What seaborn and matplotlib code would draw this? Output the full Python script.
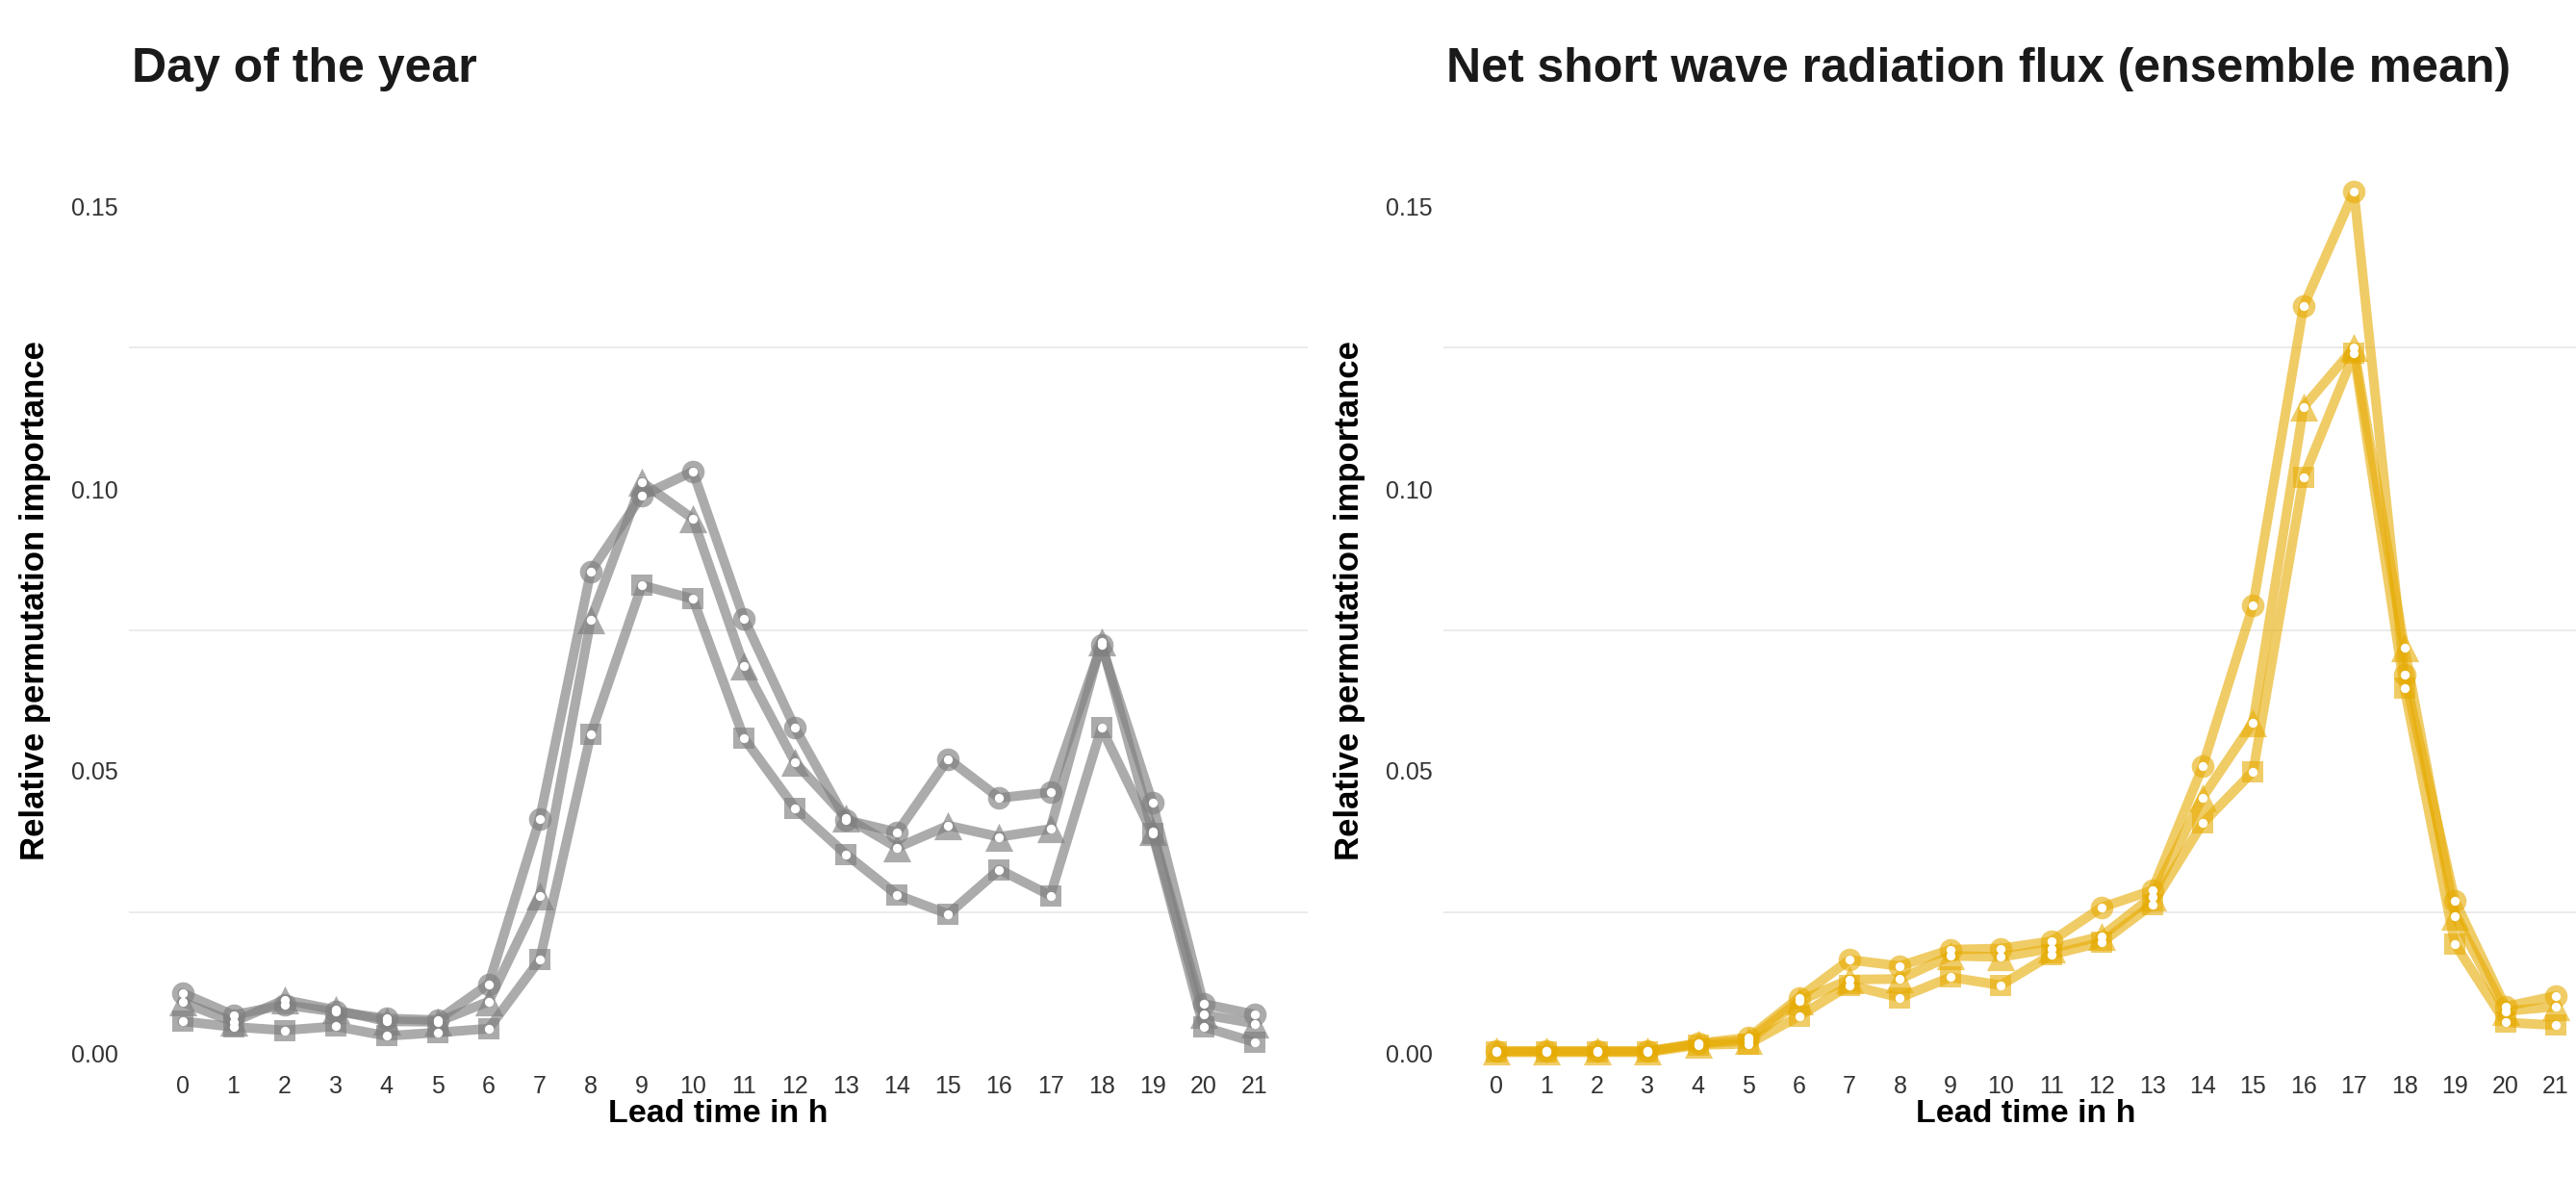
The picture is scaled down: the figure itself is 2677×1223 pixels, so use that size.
import numpy as np
import pandas as pd
import matplotlib
matplotlib.use("Agg")
import matplotlib.pyplot as plt
from matplotlib.ticker import FixedLocator, FormatStrFormatter
import seaborn as sns

# ---------------- data ----------------
lead_hours = list(range(22))

doy_circle = [0.0106, 0.0067, 0.0085, 0.0073, 0.0061, 0.0058, 0.0122, 0.0415, 0.0854, 0.0988, 0.1031,
              0.0770, 0.0576, 0.0413, 0.0391, 0.0521, 0.0452, 0.0462, 0.0723, 0.0444, 0.0087, 0.0068]
doy_triangle = [0.0090, 0.0055, 0.0094, 0.0076, 0.0056, 0.0055, 0.0091, 0.0279, 0.0768, 0.1012, 0.0947,
                0.0686, 0.0515, 0.0417, 0.0364, 0.0403, 0.0383, 0.0397, 0.0728, 0.0393, 0.0068, 0.0052]
doy_square = [0.0056, 0.0046, 0.0040, 0.0047, 0.0030, 0.0036, 0.0043, 0.0165, 0.0565, 0.0829, 0.0805,
              0.0558, 0.0434, 0.0352, 0.0280, 0.0246, 0.0325, 0.0279, 0.0576, 0.0389, 0.0046, 0.0019]

sw_circle = [0.0003, 0.0003, 0.0003, 0.0003, 0.0017, 0.0027, 0.0098, 0.0165, 0.0154, 0.0183, 0.0185,
             0.0198, 0.0258, 0.0288, 0.0508, 0.0794, 0.1324, 0.1527, 0.0670, 0.0270, 0.0082, 0.0101]
sw_triangle = [0.0003, 0.0003, 0.0003, 0.0003, 0.0016, 0.0022, 0.0092, 0.0130, 0.0131, 0.0172, 0.0170,
               0.0185, 0.0207, 0.0277, 0.0453, 0.0586, 0.1145, 0.1250, 0.0718, 0.0242, 0.0074, 0.0082]
sw_square = [0.0001, 0.0001, 0.0001, 0.0001, 0.0014, 0.0016, 0.0065, 0.0120, 0.0098, 0.0134, 0.0120,
             0.0174, 0.0196, 0.0263, 0.0407, 0.0499, 0.1020, 0.1240, 0.0646, 0.0193, 0.0054, 0.0049]

panel_titles = ["Day of the year", "Net short wave radiation flux (ensemble mean)"]
panel_colors = ["#808080", "#E6AB02"]
panel_alphas = [0.66, 0.6]
y_ticks = [0.00, 0.05, 0.10, 0.15]
x_label = "Lead time in h"
y_label = "Relative permutation importance"

# ---------------- style ----------------
sns.set_theme(style="white")
plt.rcParams["font.family"] = ["Liberation Sans", "DejaVu Sans"]

W, H = 2677, 1223
fig = plt.figure(figsize=(W / 100, H / 100), dpi=100)

y_lo, y_hi = -0.0025, 0.158
y_bot_px, y_top_px = 1094 + 5860 * (-y_lo), 1094 - 5860 * y_hi
x_lo, x_hi = -1.05, 22.05
panels_px = [(189.5, 53.06), (1555.0, 52.43)]  # (x of hour 0, px per hour)

markers = ["o", "^", "s"]
msizes = [17.0 ** 2, 21.0 ** 2, 16.5 ** 2]

def make_df(c, t, s):
    frames = []
    for name, vals in zip(["circle", "triangle", "square"], [c, t, s]):
        frames.append(pd.DataFrame({"lead": lead_hours, "imp": vals, "model": name}))
    return pd.concat(frames, ignore_index=True)

dfs = [make_df(doy_circle, doy_triangle, doy_square),
       make_df(sw_circle, sw_triangle, sw_square)]

for i, (df, col, alp, title) in enumerate(zip(dfs, panel_colors, panel_alphas, panel_titles)):
    x0, ph = panels_px[i]
    left_px = x0 + x_lo * ph
    right_px = x0 + x_hi * ph
    ax = fig.add_axes([left_px / W, (H - y_bot_px) / H,
                       (right_px - left_px) / W, (y_bot_px - y_top_px) / H])
    ax.set_xlim(x_lo, x_hi)
    ax.set_ylim(y_lo, y_hi)

    models = ["circle", "triangle", "square"]
    for m in models:
        sub = df[df["model"] == m]
        sns.lineplot(data=sub, x="lead", y="imp", ax=ax, color=col, alpha=alp,
                     lw=7.2, solid_joinstyle="round", legend=False, zorder=2)
    for m, mk, sz in zip(models, markers, msizes):
        sub = df[df["model"] == m]
        sns.scatterplot(data=sub, x="lead", y="imp", ax=ax, color=col, alpha=alp,
                        marker=mk, s=sz, linewidth=0, legend=False, zorder=3)
    for m in models:
        sub = df[df["model"] == m]
        sns.scatterplot(data=sub, x="lead", y="imp", ax=ax, color="white",
                        marker="o", s=45, linewidth=0, legend=False, zorder=4)

    for sp in ax.spines.values():
        sp.set_visible(False)
    ax.set_xticks(lead_hours)
    ax.set_xticklabels([str(h) for h in lead_hours])
    ax.yaxis.set_major_locator(FixedLocator(y_ticks))
    ax.yaxis.set_major_formatter(FormatStrFormatter("%.2f"))
    for g in [0.025, 0.075, 0.125]:
        ax.axhline(g, color="#EBEBEB", lw=1.4, zorder=0)
    ax.grid(False)
    ax.tick_params(axis="both", length=0, labelsize=18, colors="#333333")
    ax.tick_params(axis="y", pad=8)
    ax.tick_params(axis="x", pad=6)
    ax.set_xlabel("")
    ax.set_ylabel("")

    cx = (left_px + right_px) / 2
    fig.text(cx / W, 1 - 1158 / H, x_label, ha="center", va="center",
             fontsize=24.5, fontweight="bold", color="black")
    fig.text((left_px - 97) / W, 1 - 624 / H, y_label, ha="center", va="center",
             rotation=90, fontsize=25, fontweight="bold", color="black")
    fig.text((left_px + 3) / W, 1 - 85 / H, title, ha="left", va="baseline",
             fontsize=36, fontweight="bold", color="#1a1a1a")

fig.savefig("out.png", dpi=100, facecolor="white")
